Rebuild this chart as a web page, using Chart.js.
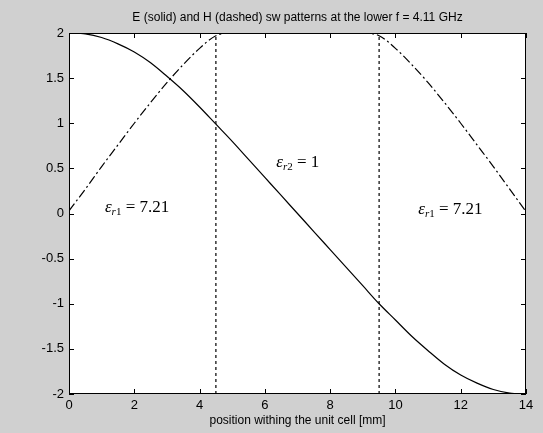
<!DOCTYPE html>
<html>
<head>
<meta charset="utf-8">
<script src="https://cdn.jsdelivr.net/npm/chart.js@4.4.0/dist/chart.umd.min.js"></script>
<style>
  html, body { margin: 0; padding: 0; background: #d0d0d0; }
  #wrap { width: 543px; height: 433px; }
</style>
</head>
<body>
<div id="wrap"><canvas id="swChart" width="543" height="433"></canvas></div>
<script>
// position along the unit cell [mm]
const positions = [0, 0.5, 1, 1.5, 2, 2.5, 3, 3.5, 4, 4.5, 5, 5.5, 6, 6.5, 7,
                   7.5, 8, 8.5, 9, 9.5, 10, 10.5, 11, 11.5, 12, 12.5, 13, 13.5, 14];
// E field (solid)
const eField = [2, 1.99, 1.95, 1.88, 1.79, 1.67, 1.52, 1.36, 1.18, 0.99, 0.8, 0.6, 0.4, 0.2, 0,
                -0.2, -0.4, -0.6, -0.8, -1.0, -1.18, -1.36, -1.52, -1.67, -1.79, -1.88, -1.95, -1.99, -2];
// H field (dash-dot)
const hField = [0.03, 0.27, 0.52, 0.76, 1.0, 1.23, 1.45, 1.65, 1.83, 1.97, 2, 2, 2, 2, 2,
                2, 2, 2, 2, 1.97, 1.83, 1.65, 1.45, 1.23, 1.0, 0.76, 0.52, 0.27, 0.02];
// layer boundaries [mm]
const boundaries = [4.5, 9.5];
const xTicks = [0, 2, 4, 6, 8, 10, 12, 14];
const yTicks = [-2, -1.5, -1, -0.5, 0, 0.5, 1, 1.5, 2];
const titleText = 'E (solid) and H (dashed) sw patterns at the lower f = 4.11 GHz';
// permittivity labels: [x, y, subscript, value]
const labels = [
  [1.1, 0.02, 'r1', '7.21'],
  [6.35, 0.52, 'r2', '1'],
  [10.7, -0.0, 'r1', '7.21']
];

const pts = (ys) => positions.map((x, i) => ({ x: x, y: ys[i] }));
const sans = '"Liberation Sans", Arial, sans-serif';

const datasets = [
  { data: pts(eField), borderColor: '#000', borderWidth: 1.2, pointRadius: 0, showLine: true,
    cubicInterpolationMode: 'monotone' },
  { data: pts(hField), borderColor: '#000', borderWidth: 1.2, pointRadius: 0, showLine: true,
    cubicInterpolationMode: 'monotone', borderDash: [9, 3, 2, 3] }
];
boundaries.forEach(b => {
  datasets.push({ data: [{ x: b, y: -2 }, { x: b, y: 2 }], borderColor: '#000', borderWidth: 1.2,
                  pointRadius: 0, showLine: true, borderDash: [3, 3] });
});

// gray page, white axes box, title centred over the axes
const paintBg = {
  id: 'paintBg',
  beforeDraw(chart) {
    const { ctx, chartArea: a } = chart;
    ctx.save();
    ctx.fillStyle = '#d0d0d0';
    ctx.fillRect(0, 0, chart.width, chart.height);
    ctx.fillStyle = '#fff';
    ctx.fillRect(a.left, a.top, a.right - a.left, a.bottom - a.top);
    ctx.fillStyle = '#000';
    ctx.font = '12px ' + sans;
    ctx.textAlign = 'center';
    ctx.textBaseline = 'alphabetic';
    ctx.fillText(titleText, (a.left + a.right) / 2, 21);
    ctx.restore();
  }
};

// matlab style box with inward ticks
const boxTicks = {
  id: 'boxTicks',
  afterDraw(chart) {
    const { ctx, chartArea: a, scales } = chart;
    ctx.save();
    ctx.strokeStyle = '#000';
    ctx.lineWidth = 1;
    ctx.strokeRect(a.left + 0.5, a.top + 0.5, a.right - a.left - 1, a.bottom - a.top - 1);
    ctx.beginPath();
    xTicks.forEach(v => {
      const px = Math.round(scales.x.getPixelForValue(v)) + 0.5;
      ctx.moveTo(px, a.bottom); ctx.lineTo(px, a.bottom - 5);
      ctx.moveTo(px, a.top); ctx.lineTo(px, a.top + 5);
    });
    yTicks.forEach(v => {
      const py = Math.round(scales.y.getPixelForValue(v)) + 0.5;
      ctx.moveTo(a.left, py); ctx.lineTo(a.left + 5, py);
      ctx.moveTo(a.right, py); ctx.lineTo(a.right - 5, py);
    });
    ctx.stroke();

    // epsilon labels
    ctx.fillStyle = '#000';
    ctx.textBaseline = 'alphabetic';
    labels.forEach(([x, y, sub, val]) => {
      let px = scales.x.getPixelForValue(x);
      const py = scales.y.getPixelForValue(y);
      ctx.font = 'italic 17px "Liberation Serif", serif';
      ctx.fillText('\u03b5', px, py);
      px += ctx.measureText('\u03b5').width;
      ctx.font = 'italic 11px "Liberation Serif", serif';
      ctx.fillText(sub[0], px, py + 3);
      px += ctx.measureText(sub[0]).width;
      ctx.font = '11px "Liberation Serif", serif';
      ctx.fillText(sub.slice(1), px, py + 3);
      px += ctx.measureText(sub.slice(1)).width;
      ctx.font = '17px "Liberation Serif", serif';
      ctx.fillText(' = ' + val, px, py);
    });
    ctx.restore();
  }
};

new Chart(document.getElementById('swChart'), {
  type: 'scatter',
  data: { datasets: datasets },
  options: {
    responsive: false,
    animation: false,
    layout: { padding: { left: 0, right: 17, top: 33, bottom: 0 } },
    plugins: {
      legend: { display: false },
      tooltip: { enabled: false },
      title: { display: false }
    },
    scales: {
      x: {
        type: 'linear', min: 0, max: 14,
        afterBuildTicks: s => { s.ticks = xTicks.map(v => ({ value: v })); },
        afterFit: s => { s.height = 39; },
        grid: { display: false, drawTicks: false },
        border: { display: false },
        ticks: { color: '#000', padding: 4, font: { family: sans, size: 13 },
                 callback: v => String(v) },
        title: { display: true, text: 'position withing the unit cell [mm]', color: '#000',
                 padding: { top: 0, bottom: 5 },
                 font: { family: sans, size: 12 } }
      },
      y: {
        type: 'linear', min: -2, max: 2,
        afterBuildTicks: s => { s.ticks = yTicks.map(v => ({ value: v })); },
        afterFit: s => { s.width = 69; },
        grid: { display: false, drawTicks: false },
        border: { display: false },
        ticks: { color: '#000', padding: 5, font: { family: sans, size: 13 },
                 callback: v => String(v) }
      }
    }
  },
  plugins: [paintBg, boxTicks]
});
</script>
</body>
</html>
